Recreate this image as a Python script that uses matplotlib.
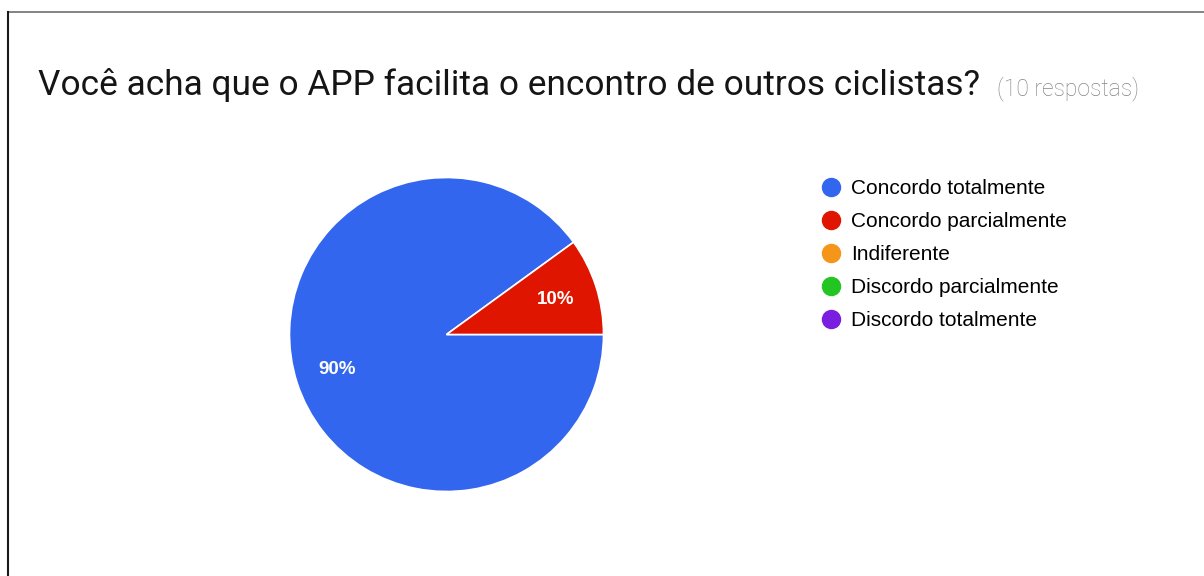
import matplotlib.pyplot as plt
from matplotlib.lines import Line2D

# survey answers
categories = ["Concordo totalmente", "Concordo parcialmente", "Indiferente",
              "Discordo parcialmente", "Discordo totalmente"]
counts = [9, 1, 0, 0, 0]
colors = ["#3366ee", "#e01500", "#f5961a", "#22c522", "#7a1ee0"]
title = "Você acha que o APP facilita o encontro de outros ciclistas?"
n_label = "(10 respostas)"

W, H = 1204, 576
fig = plt.figure(figsize=(W / 100, H / 100), dpi=100)
fig.patch.set_facecolor("white")

# frame lines (top and left only)
fig.add_artist(Line2D([8 / W, 1], [1 - 12 / H, 1 - 12 / H], transform=fig.transFigure,
                      color="#7a7a7a", lw=1.3))
fig.add_artist(Line2D([8 / W, 8 / W], [0, 1 - 12 / H], transform=fig.transFigure,
                      color="#1a1a1a", lw=1.5))

# title
fig.text(38 / W, 1 - 95 / H, title, fontsize=25.4, family="Roboto",
         color="#151515", va="baseline", ha="left")
fig.text(997 / W, 1 - 95 / H, n_label, fontsize=16.5, family="Roboto",
         fontweight="light", color="#858585", va="baseline", ha="left")

# pie
cx, cy, r = 446.5, 334.5, 157
ax = fig.add_axes([(cx - r) / W, 1 - (cy + r) / H, 2 * r / W, 2 * r / H])
nz = [i for i, c in enumerate(counts) if c > 0]
wedges, texts, autotexts = ax.pie(
    [counts[i] for i in nz], colors=[colors[i] for i in nz],
    startangle=0, counterclock=False, radius=1,
    autopct="%1.0f%%", pctdistance=0.73,
    wedgeprops=dict(edgecolor="white", linewidth=1.2),
    textprops=dict(color="white", fontsize=13.5, fontweight="bold",
                   family="Liberation Sans"))
ax.set_xlim(-1, 1)
ax.set_ylim(-1, 1)
ax.set_aspect("equal")
ax.axis("off")

# legend
handles = [Line2D([], [], marker="o", linestyle="none", markersize=13,
                  markerfacecolor=c, markeredgecolor=c) for c in colors]
fig.legend(handles, categories, loc="upper left",
           bbox_to_anchor=(810 / W, 1 - 169 / H), frameon=False,
           prop=dict(family="Liberation Sans", size=15),
           handletextpad=0.49, labelspacing=0.67, borderpad=0,
           handlelength=1.0)

fig.savefig("out.png", dpi=100)
